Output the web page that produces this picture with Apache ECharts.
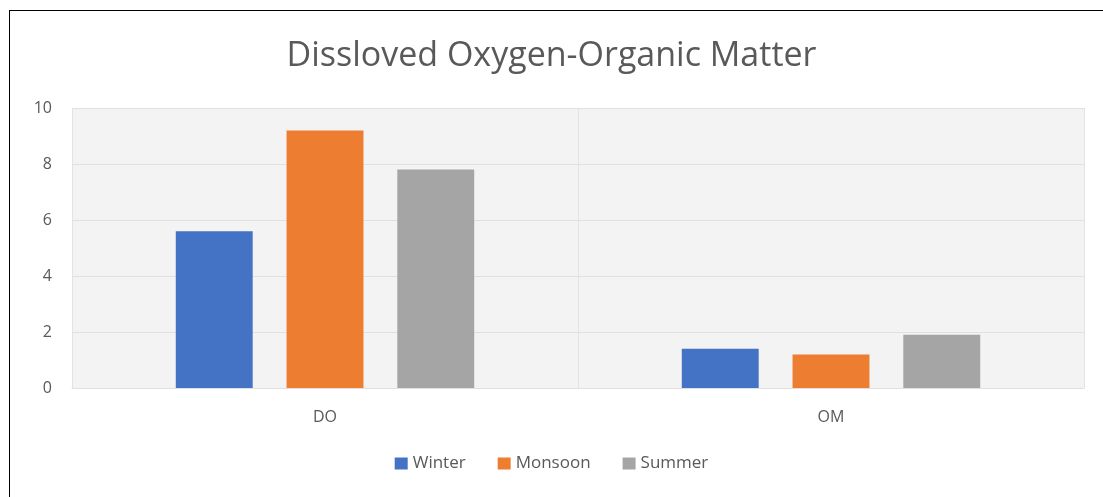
<!DOCTYPE html>
<html>
<head>
<meta charset="utf-8">
<script src="https://cdn.jsdelivr.net/npm/echarts@6/dist/echarts.min.js"></script>
<style>
  html, body { margin: 0; padding: 0; background: #fff; }
  #frame {
    position: absolute; left: 9px; top: 10px; right: 0; bottom: 0;
    border-top: 1px solid #000; border-left: 1px solid #000;
  }
  #main { position: absolute; left: 0; top: 0; width: 1103px; height: 497px; }
</style>
</head>
<body>
<div id="frame"></div>
<div id="main"></div>
<script>
var categories = ['DO', 'OM'];
var winter = [5.6, 1.4];
var monsoon = [9.2, 1.2];
var summer = [7.8, 1.9];
var yTicks = [0, 2, 4, 6, 8, 10];

var chart = echarts.init(document.getElementById('main'));
var fontFam = '"Open Sans", "Noto Sans", sans-serif';

function bar(name, data, color) {
  return {
    name: name,
    type: 'bar',
    data: data,
    barWidth: '15.2%',
    barGap: '44%',
    itemStyle: { color: color }
  };
}

chart.setOption({
  animation: false,
  title: {
    text: 'Dissloved Oxygen-Organic Matter',
    left: 'center',
    top: 34,
    textStyle: { fontFamily: fontFam, fontWeight: 'normal', fontSize: 34, color: '#595959' }
  },
  legend: {
    bottom: 20,
    left: 'center',
    itemWidth: 13,
    itemHeight: 12,
    itemGap: 32,
    icon: 'rect',
    textStyle: { fontFamily: fontFam, fontSize: 17, color: '#595959' },
    data: ['Winter', 'Monsoon', 'Summer']
  },
  grid: {
    left: 72, right: 19, top: 108, bottom: 109,
    show: true, backgroundColor: '#f3f3f3', borderWidth: 0
  },
  xAxis: {
    type: 'category',
    data: categories,
    axisLine: { show: true, lineStyle: { color: '#e0e0e0' } },
    axisTick: { show: false },
    splitLine: { show: true, lineStyle: { color: '#e3e3e3' } },
    axisLabel: { fontFamily: fontFam, fontSize: 16, color: '#595959', margin: 21 }
  },
  yAxis: {
    type: 'value',
    min: yTicks[0],
    max: yTicks[yTicks.length - 1],
    interval: 2,
    axisLine: { show: false },
    axisTick: { show: false },
    splitLine: { lineStyle: { color: '#e0e0e0' } },
    axisLabel: { fontFamily: fontFam, fontSize: 16, color: '#595959', margin: 20 }
  },
  series: [
    bar('Winter', winter, '#4472c4'),
    bar('Monsoon', monsoon, '#ed7d31'),
    bar('Summer', summer, '#a5a5a5')
  ]
});
</script>
</body>
</html>
